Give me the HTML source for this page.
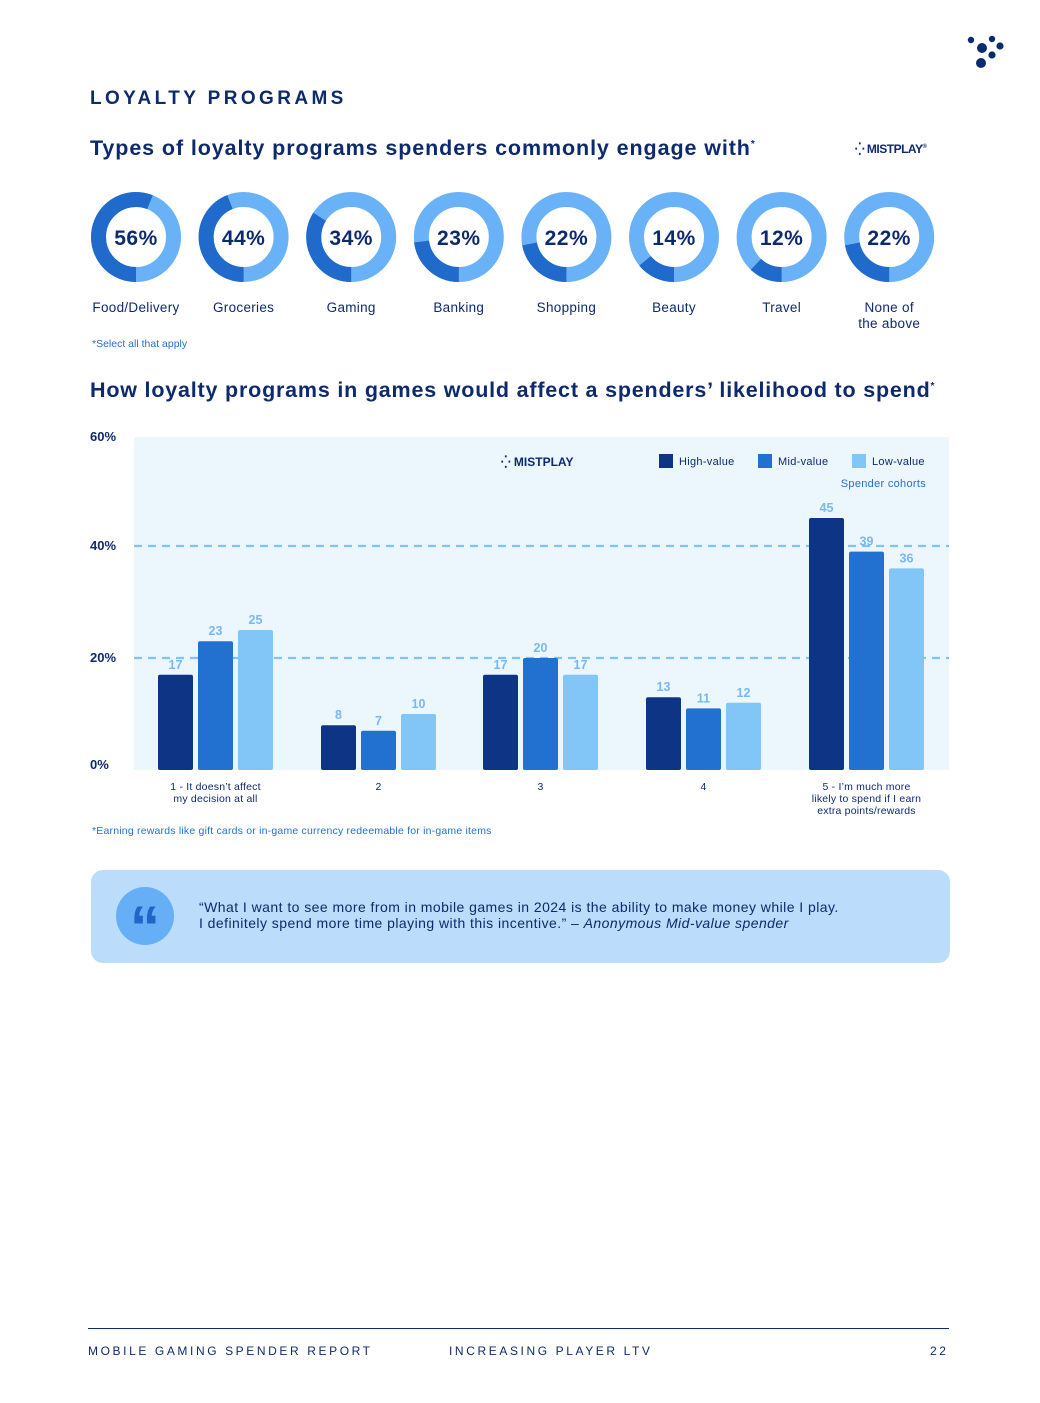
<!DOCTYPE html>
<html><head><meta charset="utf-8">
<style>
body{margin:0;width:1040px;height:1403px;background:#fff;font-family:"Liberation Sans",sans-serif;position:relative;overflow:hidden;color:#0e2a6e}
.abs{position:absolute}
</style></head><body>
<svg class="abs" style="left:0;top:0" width="1040" height="80">
<circle cx="971" cy="40" r="3.2" fill="#0e2a6e"/><circle cx="992" cy="39" r="3.2" fill="#0e2a6e"/><circle cx="982" cy="48" r="5" fill="#0e2a6e"/><circle cx="1000" cy="46" r="3.6" fill="#0e2a6e"/><circle cx="992" cy="55" r="3.6" fill="#0e2a6e"/><circle cx="981" cy="63" r="5" fill="#0e2a6e"/>
</svg>
<div class="abs" style="left:90px;top:88px;font-size:19px;font-weight:bold;letter-spacing:3.4px;color:#0e2a6e">LOYALTY PROGRAMS</div>
<div class="abs" style="left:90px;top:136px;font-size:21.5px;font-weight:bold;letter-spacing:0.9px;color:#0e2a6e">Types of loyalty programs spenders commonly engage with<sup style="font-size:10px">*</sup></div>
<div class="abs" style="left:855px;top:142px;font-size:12px;font-weight:bold;color:#0e2a6e;letter-spacing:-0.5px">⁛ MISTPLAY<sup style="font-size:6px">®</sup></div>
<svg id="donuts" class="abs" style="left:0;top:180px" width="1040" height="160"></svg>
<div class="abs" style="left:92px;top:338px;font-size:10.5px;color:#2470d0">*Select all that apply</div>
<div class="abs" style="left:90px;top:378px;font-size:21.5px;font-weight:bold;letter-spacing:0.8px;color:#0e2a6e">How loyalty programs in games would affect a spenders’ likelihood to spend<sup style="font-size:10px">*</sup></div>
<svg id="bars" class="abs" style="left:0;top:420px" width="1040" height="410"></svg>
<div class="abs" style="left:92px;top:825px;font-size:10.5px;letter-spacing:0.2px;color:#2470d0">*Earning rewards like gift cards or in-game currency redeemable for in-game items</div>
<div class="abs" style="left:91px;top:870px;width:859px;height:93px;background:#bcdcfb;border-radius:12px">
 <div class="abs" style="left:25px;top:17px;width:58px;height:58px;border-radius:50%;background:#66aef5;color:#1f66c8;font:bold 60px 'Liberation Sans',sans-serif;text-align:center;line-height:82px">“</div>
 <div class="abs" style="left:108px;top:29px;font-size:14px;letter-spacing:0.45px;line-height:16px;color:#0e2a6e">“What I want to see more from in mobile games in 2024 is the ability to make money while I play.<br>I definitely spend more time playing with this incentive.” – <i>Anonymous Mid-value spender</i></div>
</div>
<div class="abs" style="left:88px;top:1328px;width:861px;height:1px;background:#0e2a6e"></div>
<div class="abs" style="left:88px;top:1344px;font-size:12px;letter-spacing:2.6px">MOBILE GAMING SPENDER REPORT</div>
<div class="abs" style="left:449px;top:1344px;font-size:12px;letter-spacing:2.6px">INCREASING PLAYER LTV</div>
<div class="abs" style="left:930px;top:1344px;font-size:12px;letter-spacing:2.6px">22</div>
<script>
const donutLabels=["Food/Delivery","Groceries","Gaming","Banking","Shopping","Beauty","Travel","None of\nthe above"];
const donutValues=[56,44,34,23,22,14,12,22];
const NS="http://www.w3.org/2000/svg";
function mk(p,t,a){const e=document.createElementNS(NS,t);for(const k in a)e.setAttribute(k,a[k]);p.appendChild(e);return e;}
const ds=document.getElementById('donuts');
donutValues.forEach((v,i)=>{
 const cx=136+i*107.6,cy=57,r=37.5,C=2*Math.PI*r;
 const bg=mk(ds,'circle',{cx,cy,r,fill:'none',stroke:'#6ab2f7','stroke-width':15});
 
 const arc=mk(ds,'circle',{cx,cy,r,fill:'none',stroke:'#1f6acb','stroke-width':15,'stroke-dasharray':(C*v/100)+' '+C,transform:`rotate(90 ${cx} ${cy})`});
 
 const t=mk(ds,'text',{x:cx,y:cy+8,'text-anchor':'middle','font-size':21,'font-weight':'bold',fill:'#0e2a6e','letter-spacing':0.5});t.textContent=v+'%';
 
 donutLabels[i].split('\n').forEach((ln,j)=>{const l=mk(ds,'text',{x:cx,y:132+j*16,'text-anchor':'middle','font-size':13.5,fill:'#0e2a6e','letter-spacing':0.3});l.textContent=ln;
 });
});
const categories=[["1 - It doesn’t affect","my decision at all"],["2"],["3"],["4"],["5 - I’m much more","likely to spend if I earn","extra points/rewards"]];
const highValue=[17,8,17,13,45];
const midValue=[23,7,20,11,39];
const lowValue=[25,10,17,12,36];
const yTicks=[0,20,40,60];
const bs=document.getElementById('bars');
const y0=350,k=5.6; const yS=v=>y0-v*k;
const centers=[215.5,378.5,540.5,703.5,866.5];
const pa=mk(bs,'rect',{x:134,y:17,width:815,height:333,fill:'#ebf6fd'});
yTicks.forEach(t=>{const yy=t==60?21:yS(t)+(t==0?-1:4);const tx=mk(bs,'text',{x:90,y:yy,'font-size':13,'font-weight':'bold',fill:'#0e2a6e'});tx.textContent=t+'%';

if(t==20||t==40){const g=mk(bs,'line',{x1:134,x2:949,y1:yS(t),y2:yS(t),stroke:'#7ec4f5','stroke-width':2.2,'stroke-dasharray':'8 6'});}});
const series=[[highValue,'#0e3585',-40],[midValue,'#2270cf',0],[lowValue,'#82c6f8',40]];
categories.forEach((c,i)=>{
 series.forEach(([arr,col,off])=>{const v=arr[i];const x=centers[i]+off-17.5;
  const b=mk(bs,'rect',{x,y:yS(v),width:35,height:v*k,rx:2,fill:col});
  const l=mk(bs,'text',{x:x+17.5,y:yS(v)-6,'text-anchor':'middle','font-size':12.5,'font-weight':'bold',fill:'#7ab8f2'});l.textContent=v;
  });
 c.forEach((ln,j)=>{const t=mk(bs,'text',{x:centers[i],y:370+j*12,'text-anchor':'middle','font-size':10.5,fill:'#0e2a6e','letter-spacing':0.2});t.textContent=ln;
 });
});
const logo=mk(bs,'text',{x:501,y:46,'font-size':12,'font-weight':'bold',fill:'#0e2a6e'});logo.textContent='⁛ MISTPLAY';
[['High-value','#0e3585',659],['Mid-value','#2270cf',758],['Low-value','#82c6f8',852]].forEach(([n,c,x])=>{
 const s=mk(bs,'rect',{x,y:34,width:14,height:14,fill:c});
 const t=mk(bs,'text',{x:x+20,y:45,'font-size':11,fill:'#0e2a6e','letter-spacing':0.3});t.textContent=n;});
const lc=mk(bs,'text',{x:926,y:67,'text-anchor':'end','font-size':11,fill:'#2470d0','letter-spacing':0.3});lc.textContent='Spender cohorts';
</script>
</body></html>
